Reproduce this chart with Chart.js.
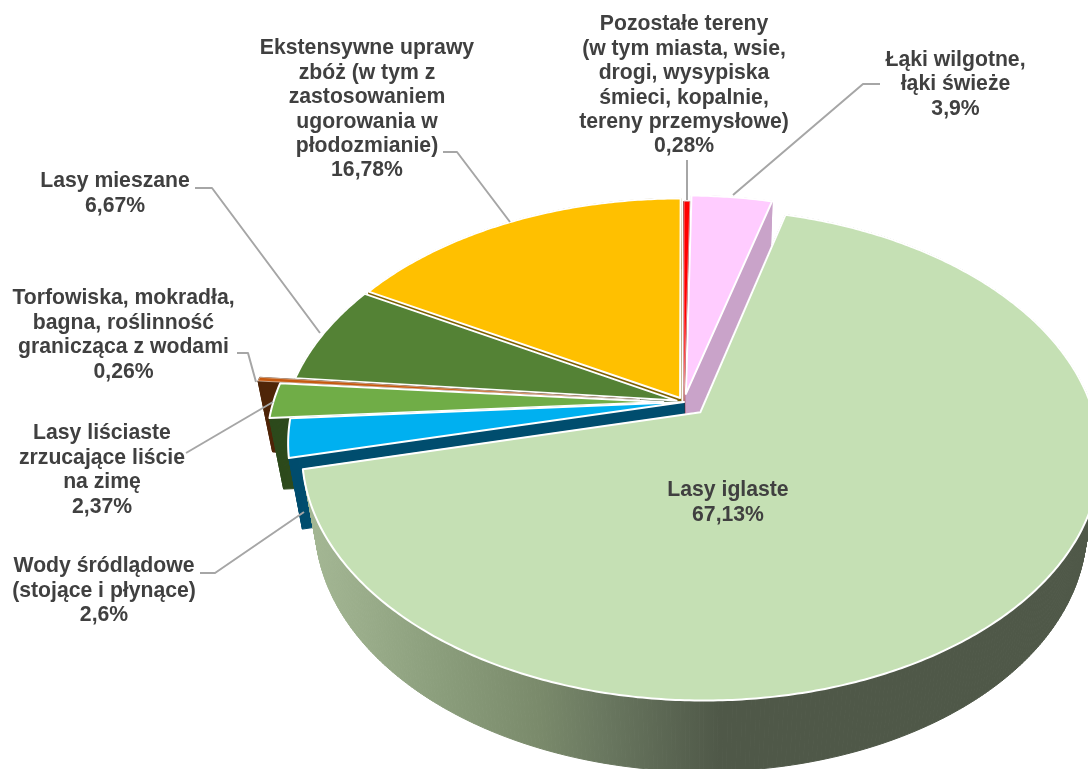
<!DOCTYPE html>
<html>
<head>
<meta charset="utf-8">
<script src="https://cdn.jsdelivr.net/npm/chart.js@4"></script>
<style>
html, body { margin: 0; padding: 0; background: #fff; overflow: hidden; }
canvas { display: block; }
</style>
</head>
<body>
<canvas id="landChart" width="1088" height="769"></canvas>
<script>
const categories = [
    'Pozostałe tereny\n(w tym miasta, wsie,\ndrogi, wysypiska\nśmieci, kopalnie,\ntereny przemysłowe)',
    'Łąki wilgotne,\nłąki świeże',
    'Lasy iglaste',
    'Wody śródlądowe\n(stojące i płynące)',
    'Lasy liściaste\nzrzucające liście\nna zimę',
    'Torfowiska, mokradła,\nbagna, roślinność\ngranicząca z wodami',
    'Lasy mieszane',
    'Ekstensywne uprawy\nzbóż (w tym z\nzastosowaniem\nugorowania w\npłodozmianie)'
];
const shares = [0.28, 3.9, 67.13, 2.6, 2.37, 0.26, 6.67, 16.78];

const topColors = ['#ff0000', '#ffccff', '#c5e0b4', '#00b0f0', '#70ad47', '#c55a11', '#548235', '#ffc000'];
const wallColors = ['#7f0000', '#c9a3c9', null, '#004d6e', '#2d4a1c', '#4f2508', '#2f4a1c', '#7f6000'];
const borderWidths = [0.5, 2, 2, 2, 2, 0.5, 2, 2];
const explode = [0, 0.035, 0.06, 0, 0.053, 0.113, 0.02, 0.02];
const drawOrder = [7, 0, 1, 6, 5, 4, 3, 2];

// where each label goes (centre x, first line y) and its leader line
const labelSpots = [[684, 24.5], [955.5, 60], [728, 490.5], [104, 566.5], [102, 433.5], [123.5, 298.5], [115, 181.5], [367, 48.5]];
const leaders = [
    [[687, 160], [687, 200]],
    [[880, 84], [863, 84], [733, 195]],
    [],
    [[200, 573], [215, 573], [304, 512]],
    [[186, 453], [273, 402]],
    [[237, 353], [248, 353], [256, 382]],
    [[195, 188], [212, 188], [320, 333]],
    [[443, 152], [457, 152], [510, 222]]
];

const PIE_RADIUS = 340;
const view = { cx: 684, cy: 402, rx: 390, ry: 235, persp: 0.1715, depth: 71, wallScale: 0.967, wallCx: 700 };

function project(u, v) {
    const s = 1 / (1 - view.persp * v);
    return [view.cx + view.rx * u * s, view.cy + view.ry * v * s];
}

function slicePoints(arc) {
    const mid = (arc.startAngle + arc.endAngle) / 2;
    const d = arc.options.offset / arc.outerRadius;
    const ox = Math.cos(mid) * d, oy = Math.sin(mid) * d;
    const pts = [project(ox, oy)];
    const steps = Math.max(2, Math.ceil((arc.endAngle - arc.startAngle) / 0.01));
    for (let i = 0; i <= steps; i++) {
        const a = arc.startAngle + (arc.endAngle - arc.startAngle) * i / steps;
        pts.push(project(ox + Math.cos(a), oy + Math.sin(a)));
    }
    return pts;
}

function lower(p) {
    return [view.wallCx + (p[0] - view.wallCx) * view.wallScale, p[1] + view.depth];
}

function sideGradient(ctx) {
    const g = ctx.createLinearGradient(300, 0, 720, 0);
    g.addColorStop(0, '#a6b996');
    g.addColorStop(0.33, '#8b9e7c');
    g.addColorStop(0.57, '#7a8a6b');
    g.addColorStop(0.72, '#6a7860');
    g.addColorStop(1, '#4f5848');
    return g;
}

const pie3d = {
    id: 'pie3d',
    beforeDatasetDraw(chart, args) {
        const ctx = chart.ctx;
        const arcs = chart.getDatasetMeta(args.index).data;
        drawOrder.forEach(i => {
            const pts = slicePoints(arcs[i]);
            const wall = wallColors[i] || sideGradient(ctx);
            ctx.fillStyle = wall;
            ctx.strokeStyle = wall;
            ctx.lineWidth = 1;
            for (let k = 0; k < pts.length; k++) {
                const a = pts[k], b = pts[(k + 1) % pts.length];
                const c = lower(b), e = lower(a);
                ctx.beginPath();
                ctx.moveTo(a[0], a[1]);
                ctx.lineTo(b[0], b[1]);
                ctx.lineTo(c[0], c[1]);
                ctx.lineTo(e[0], e[1]);
                ctx.closePath();
                ctx.fill();
                ctx.stroke();
            }
            ctx.beginPath();
            pts.forEach((p, k) => k ? ctx.lineTo(p[0], p[1]) : ctx.moveTo(p[0], p[1]));
            ctx.closePath();
            ctx.fillStyle = topColors[i];
            ctx.fill();
            ctx.strokeStyle = '#ffffff';
            ctx.lineWidth = borderWidths[i];
            ctx.lineJoin = 'round';
            ctx.stroke();
        });
        return false;
    },
    afterDraw(chart) {
        const ctx = chart.ctx;
        ctx.save();
        ctx.strokeStyle = '#a6a6a6';
        ctx.lineWidth = 2;
        leaders.forEach(line => {
            if (!line.length) return;
            ctx.beginPath();
            line.forEach((p, k) => k ? ctx.lineTo(p[0], p[1]) : ctx.moveTo(p[0], p[1]));
            ctx.stroke();
        });
        ctx.fillStyle = '#404040';
        ctx.font = 'bold 21.2px "Liberation Sans", Arial, sans-serif';
        ctx.textAlign = 'center';
        ctx.textBaseline = 'middle';
        categories.forEach((name, i) => {
            const lines = name.split('\n').concat(String(shares[i]).replace('.', ',') + '%');
            lines.forEach((t, k) => ctx.fillText(t, labelSpots[i][0], labelSpots[i][1] + k * 24.4));
        });
        ctx.restore();
    }
};

new Chart(document.getElementById('landChart'), {
    type: 'pie',
    data: {
        labels: categories,
        datasets: [{
            data: shares,
            backgroundColor: topColors,
            offset: explode.map(f => f * PIE_RADIUS)
        }]
    },
    options: {
        responsive: false,
        animation: false,
        radius: PIE_RADIUS,
        layout: { padding: 0 },
        plugins: { legend: { display: false }, tooltip: { enabled: false } }
    },
    plugins: [pie3d]
});
</script>
</body>
</html>
